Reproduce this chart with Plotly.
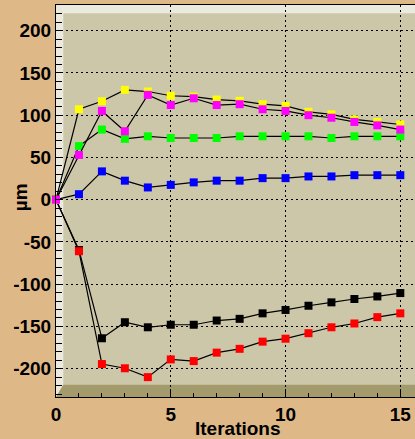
import plotly.graph_objects as go

# Iteration index and per-run displacement (µm)
iterations = list(range(16))

run_black = [0, -59.5, -164, -145, -151, -148, -148, -143, -141, -134.5, -130.5, -125.5, -121.5, -117.5, -114.5, -110.5]
run_red = [0, -61, -194.5, -199.5, -210, -189, -191, -181, -176.5, -168, -164.5, -158, -151, -146.5, -139, -134.5]
run_blue = [0, 6.5, 33.5, 22.5, 14.5, 17.5, 20.5, 22.5, 22.5, 25.5, 25.5, 27.5, 27.5, 29, 29, 29]
run_green = [0, 63.5, 83, 72, 75, 73, 73, 73, 75, 75, 75, 75, 73, 75, 75, 75]
run_yellow = [0, 107, 116.5, 130, 128, 123, 122, 118.5, 117, 113, 111, 104, 101, 95, 92, 89]
run_magenta = [0, 53, 105, 81, 124, 112, 120, 112, 113, 107, 105, 100, 97, 92, 88, 83]

# Axis tick labels (plain hyphen for negatives)
y_ticks = [-200, -150, -100, -50, 0, 50, 100, 150, 200]
y_ticklabels = ["-200", "-150", "-100", "-50", "0", "50", "100", "150", "200"]
x_ticks = [0, 5, 10, 15]
x_ticklabels = ["0", "5", "10", "15"]

series = [
    ("black", run_black),
    ("#ff0000", run_red),
    ("#0000ff", run_blue),
    ("#00ff00", run_green),
    ("#ffff00", run_yellow),
    ("#ff00ff", run_magenta),
]

fig = go.Figure()
for color, vals in series:
    fig.add_trace(go.Scatter(
        x=iterations, y=vals, mode="lines+markers",
        line=dict(color="black", width=1.2),
        marker=dict(symbol="square", size=8, color=color, line=dict(width=0)),
        showlegend=False, cliponaxis=False,
    ))

label_font = dict(family="Liberation Sans", size=19, color="black", weight="bold")

# 3D-style frame bevels (light top/left, dark bottom)
wl, wt, wb = 7.3 / 359, 8.3 / 392, 12.3 / 392
shapes = [
    dict(type="path", xref="paper", yref="paper", layer="below", line=dict(width=0),
         fillcolor="#ece9de",
         path=f"M 0 0 L 0 1 L {wl} {1 - wt} L {wl} {wb} Z"),
    dict(type="path", xref="paper", yref="paper", layer="below", line=dict(width=0),
         fillcolor="#ece9de",
         path=f"M 0 1 L 1 1 L 1 {1 - wt} L {wl} {1 - wt} Z"),
    dict(type="path", xref="paper", yref="paper", layer="below", line=dict(width=0),
         fillcolor="#a49b6d",
         path=f"M 0 0 L 1 0 L 1 {wb} L {wl} {wb} Z"),
]

fig.update_layout(
    width=415, height=439,
    margin=dict(l=56, r=0, t=5, b=42, autoexpand=False),
    paper_bgcolor="#dfb887",
    plot_bgcolor="#cdc7aa",
    shapes=shapes,
    xaxis=dict(
        range=[0, 15.64], tickmode="array", tickvals=x_ticks, ticktext=x_ticklabels,
        ticks="inside", ticklen=8, tickcolor="black", tickwidth=1,
        minor=dict(dtick=1, tick0=0, ticks="inside", ticklen=4, tickcolor="black", showgrid=False),
        showgrid=True, gridcolor="black", griddash="2px,3px", gridwidth=1,
        zeroline=False, showline=True, linecolor="black", linewidth=1, mirror=True,
        tickfont=label_font,
        automargin=False,
    ),
    yaxis=dict(
        range=[-233.5, 230.4], tickmode="array", tickvals=y_ticks, ticktext=y_ticklabels,
        ticks="inside", ticklen=7, tickcolor="black", tickwidth=1,
        minor=dict(dtick=10, tick0=0, ticks="inside", ticklen=6, tickcolor="black", showgrid=False),
        showgrid=True, gridcolor="black", griddash="2px,3px", gridwidth=1,
        zeroline=False, showline=True, linecolor="black", linewidth=1, mirror=True,
        tickfont=label_font,
        automargin=False,
    ),
    annotations=[
        dict(text="Iterations", xref="paper", yref="paper", x=0.506, y=-0.0804,
             xanchor="center", yanchor="middle", yshift=0,
             showarrow=False, font=label_font),
        dict(text="µm", xref="paper", yref="paper", x=-0.1, y=0.51,
             xanchor="center", yanchor="middle", textangle=-90,
             showarrow=False, font=label_font),
    ],
)

fig.write_html("out.html")
